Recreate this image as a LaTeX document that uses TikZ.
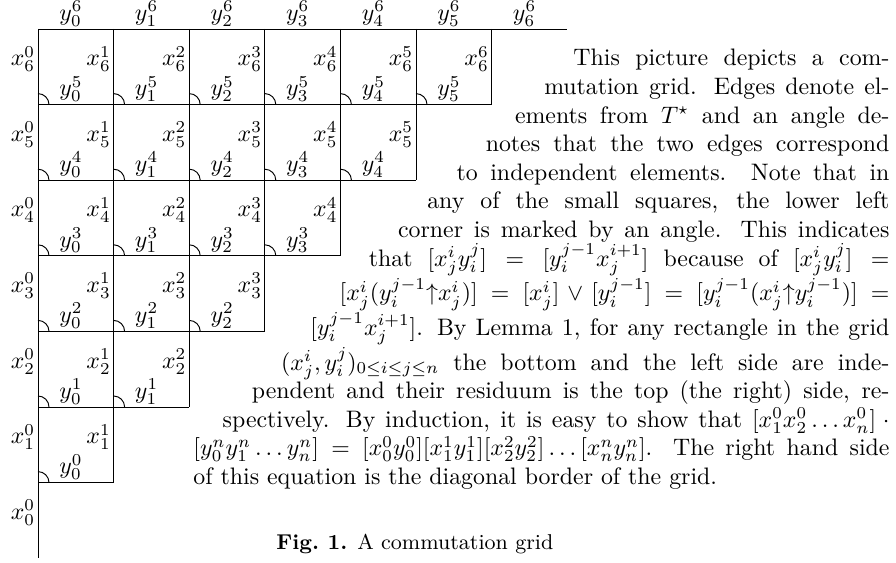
\documentclass[tikz,border=0pt]{standalone}
\tikzset{
  edge/.style={line width=0.4pt},
  vlab/.style={anchor=east, inner sep=1pt},
  hlab/.style={anchor=south, inner sep=1pt},
  ang/.style={line width=0.4pt},
}
\begin{document}
\begin{tikzpicture}[x=0.41958pt, y=-0.41958pt]
\useasboundingbox (0,0) rectangle (896,563);
% grid points
\foreach \c in {0,...,7}
  \foreach \r in {0,...,7}
    \coordinate (p\c-\r) at ({38+75.6*\c},{29+75.6*\r});
% top and left border
\draw[edge] (p0-0) -- (p7-0);
\draw[edge] (p0-0) -- (p0-7);
% vertical lines
\foreach \c in {1,...,6}{
  \pgfmathtruncatemacro{\rb}{7-\c}
  \draw[edge] (p\c-0) -- (p\c-\rb);
}
% horizontal lines
\foreach \r in {1,...,6}{
  \pgfmathtruncatemacro{\ce}{7-\r}
  \draw[edge] (p0-\r) -- (p\ce-\r);
}
% top labels
\foreach \i in {0,...,6}
  \node[hlab] (top\i) at ({71+75.6*\i},29) {$y_{\i}^{6}$};
% rows
\foreach \j in {1,...,6}{
  \pgfmathtruncatemacro{\rt}{6-\j}
  \pgfmathtruncatemacro{\rb}{7-\j}
  \pgfmathtruncatemacro{\jm}{\j-1}
  \node[vlab] (xl\j) at (38,{29+75.6*\rt+30}) {$x_{\j}^{0}$};
  \foreach \i in {1,...,\j}{
    \pgfmathtruncatemacro{\im}{\i-1}
    \node[vlab] (xr\j-\i) at ({38+75.6*\i},{29+75.6*\rt+30}) {$x_{\j}^{\i}$};
    \node[hlab] (yb\j-\i) at ({71+75.6*\im},{29+75.6*\rb}) {$y_{\im}^{\jm}$};
    \draw[ang] (p\im-\rb) ++(11,0) arc[start angle=0, end angle=-90, radius=11];
  }
}
\node[vlab] (xl0) at (38,{29+75.6*6+30}) {$x_{0}^{0}$};
% text
\node[anchor=base west, inner sep=0pt] (para) at (193,66) {\parbox[t]{292.03pt}{%
\parindent=0pt\tolerance=10000\hbadness=10000
\parshape 15
159.44pt 132.59pt
147.18pt 144.85pt
134.91pt 157.12pt
122.65pt 169.38pt
110.38pt 181.64pt
98.12pt 193.91pt
85.85pt 206.17pt
73.59pt 218.44pt
61.33pt 230.70pt
49.06pt 242.97pt
36.80pt 255.23pt
24.53pt 267.50pt
12.27pt 279.76pt
0pt 292.03pt
0pt 292.03pt
This picture depicts a com-\linebreak
mutation grid. Edges denote el-\linebreak
ements from $T^\star$ and an angle de-\linebreak
notes that the two edges correspond\linebreak
to independent elements. Note that in\linebreak
any of the small squares, the lower left\linebreak
corner is marked by an angle. This indicates\linebreak
that $[x_j^i y_i^j] = [y_i^{j-1} x_j^{i+1}]$ because of $[x_j^i y_i^j] =$\linebreak
$[x_j^i(y_i^{j-1}{\uparrow}x_j^i)] = [x_j^i] \vee [y_i^{j-1}] = [y_i^{j-1}(x_j^i{\uparrow}y_i^{j-1})] =$\linebreak
$[y_i^{j-1}x_j^{i+1}]$. By Lemma 1, for any rectangle in the grid\linebreak
$(x_j^i, y_i^j)_{0\le i\le j\le n}$ the bottom and the left side are inde-\linebreak
pendent and their residuum is the top (the right) side, re-\linebreak
spectively. By induction, it is easy to show that $[x_1^0x_2^0\ldots x_n^0]\mskip\medmuskip\cdot$\linebreak
$[y_0^ny_1^n\ldots y_n^n] = [x_0^0y_0^0][x_1^1y_1^1][x_2^2y_2^2]\ldots[x_n^ny_n^n]$. The right hand side\linebreak
of this equation is the diagonal border of the grid.\par}};
\node[anchor=base west, inner sep=0pt] (cap) at (276,549) {\small\textbf{Fig.\ 1.} A commutation grid};
\end{tikzpicture}
\end{document}
